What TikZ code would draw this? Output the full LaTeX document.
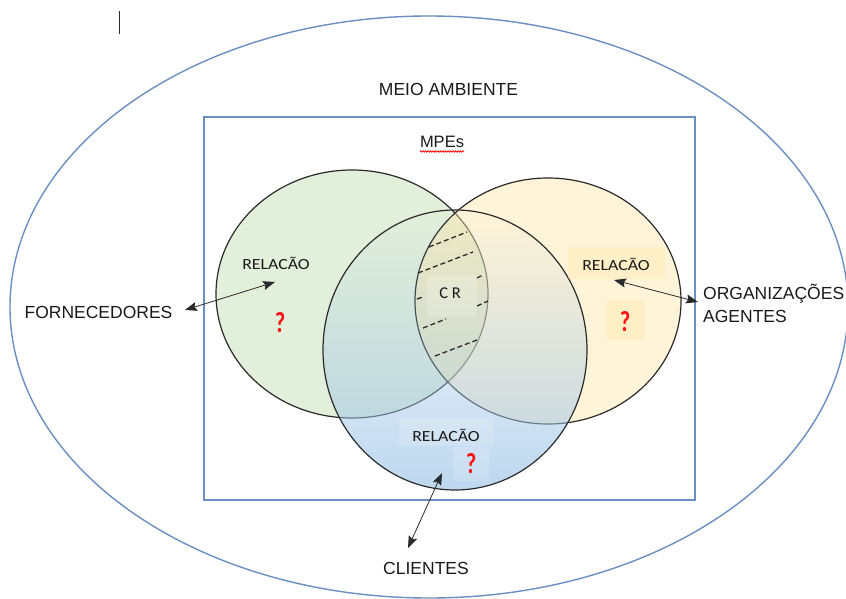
\documentclass[tikz,border=0pt]{standalone}
\usepackage{fontspec}
\setmainfont{Liberation Sans}
\newfontfamily\relfont[FakeStretch=1.15]{Carlito}
\newfontfamily\crfont{Carlito}
\newfontfamily\qfont[FakeStretch=0.78]{Carlito}
\usetikzlibrary{arrows.meta,decorations.pathmorphing,fadings}

\definecolor{envline}{HTML}{6A8FC0}
\definecolor{ringline}{HTML}{2A2A2A}
\definecolor{supfill}{HTML}{E2EFDA}
\definecolor{orgfill}{HTML}{FFE6A8}
\definecolor{clifill}{HTML}{A1C6E7}
\definecolor{labelgrey}{HTML}{1A1A1A}
\definecolor{qred}{HTML}{FF1010}

\tikzfading[name=clientfade, top color=transparent!100, middle color=transparent!82, bottom color=transparent!30]

\tikzset{
  frameline/.style={draw=envline, line width=1.4pt},
  ring/.style={draw=ringline, line width=1.2pt},
  biglabel/.style={font=\fontsize{17.5}{21}\selectfont, text=labelgrey, inner sep=0pt},
  rellabel/.style={font=\relfont\fontsize{15.5}{18}\selectfont, text=labelgrey, inner sep=0pt},
  qmark/.style={font=\qfont\bfseries\fontsize{29}{32}\selectfont, text=qred, inner sep=0pt},
  hatch/.style={draw=ringline, line width=1.3pt, dash pattern=on 5pt off 3pt},
  conn/.style={draw=ringline, line width=0.8pt,
    {Stealth[length=12pt,width=9pt,inset=2pt]}-{Stealth[length=12pt,width=9pt,inset=2pt]}},
}

\begin{document}
\begin{tikzpicture}[x=1pt,y=-1pt]
\useasboundingbox (0,0) rectangle (846,599);
\clip (0,0) rectangle (846,599);

% cursor mark
\draw[ringline, line width=1pt] (119,11) -- (119,34);

% environment and company frame
\draw[frameline] (429,307) ellipse [x radius=419pt, y radius=291pt];
\draw[frameline] (204,117) rectangle (695,500);

% the three relation sets
\path[ring, fill=supfill] (352,294) ellipse [x radius=136pt, y radius=124pt];
\path[ring, fill=orgfill, fill opacity=0.45] (548,301) ellipse [x radius=133pt, y radius=123pt];
\fill[clifill, path fading=clientfade, fit fading=true] (455,350) ellipse [x radius=132pt, y radius=140pt];
\draw[ring] (455,350) ellipse [x radius=132pt, y radius=140pt];

% hatching of the common area
\draw[hatch] (429,247) -- (467,232);
\draw[hatch] (418,273) -- (473,252);
\draw[hatch] (477,278) -- (483,275);
\draw[hatch] (417,299) -- (423,297);
\draw[hatch] (477,306) -- (488,301);
\draw[hatch] (423,328) -- (446,319);
\draw[hatch] (435,356) -- (477,340);

% label backgrounds
\fill[white, opacity=0.18] (427,275) rectangle (477,317);
\fill[orgfill, opacity=0.35] (568,247) rectangle (665,279);
\fill[orgfill, opacity=0.35] (606,300) rectangle (645,340);
\fill[white, opacity=0.15] (399,418) rectangle (494,446);
\fill[white, opacity=0.15] (453,447) rectangle (489,481);

% labels
\node[biglabel, anchor=base] (meio) at (448.5,96) {MEIO AMBIENTE};
\node[biglabel, anchor=base, font=\fontsize{16.5}{20}\selectfont] (mpes) at (442,148) {MPEs};
\draw[qred, line width=0.8pt, decorate, decoration={snake, amplitude=0.7pt, segment length=2.5pt}]
  ([yshift=-3.5pt]mpes.base west) -- ([yshift=-3.5pt]mpes.base east);
\node[biglabel, anchor=base] (forn) at (98.5,318) {FORNECEDORES};
\node[biglabel, anchor=base west] (org) at (703,299) {ORGANIZAÇÕES};
\node[biglabel, anchor=base west] (agt) at (703,322) {AGENTES};
\node[biglabel, anchor=base] (cli) at (426,574) {CLIENTES};

\node[rellabel, anchor=base] (relS) at (276,269) {RELACÃO};
\node[rellabel, anchor=base] (relO) at (616,270) {RELACÃO};
\node[rellabel, anchor=base] (relC) at (446,441) {RELACÃO};
\node[rellabel, anchor=base, font=\crfont\fontsize{16.5}{19}\selectfont] (cr) at (450,298) {C R};

\node[qmark, anchor=base] (qS) at (280,332) {?};
\node[qmark, anchor=base] (qO) at (625,331) {?};
\node[qmark, anchor=base] (qC) at (471,473) {?};

% connectors
\coordinate (fornEnd) at (185,310);
\coordinate (supEnd) at (275,282);
\coordinate (orgIn) at (614,280);
\coordinate (orgEnd) at (698,302);
\coordinate (cliIn) at (442,473);
\coordinate (cliEnd) at (408,548);
\draw[conn] (fornEnd) -- (supEnd);
\draw[conn] (orgIn) -- (orgEnd);
\draw[conn] (cliIn) -- (cliEnd);
\end{tikzpicture}
\end{document}
